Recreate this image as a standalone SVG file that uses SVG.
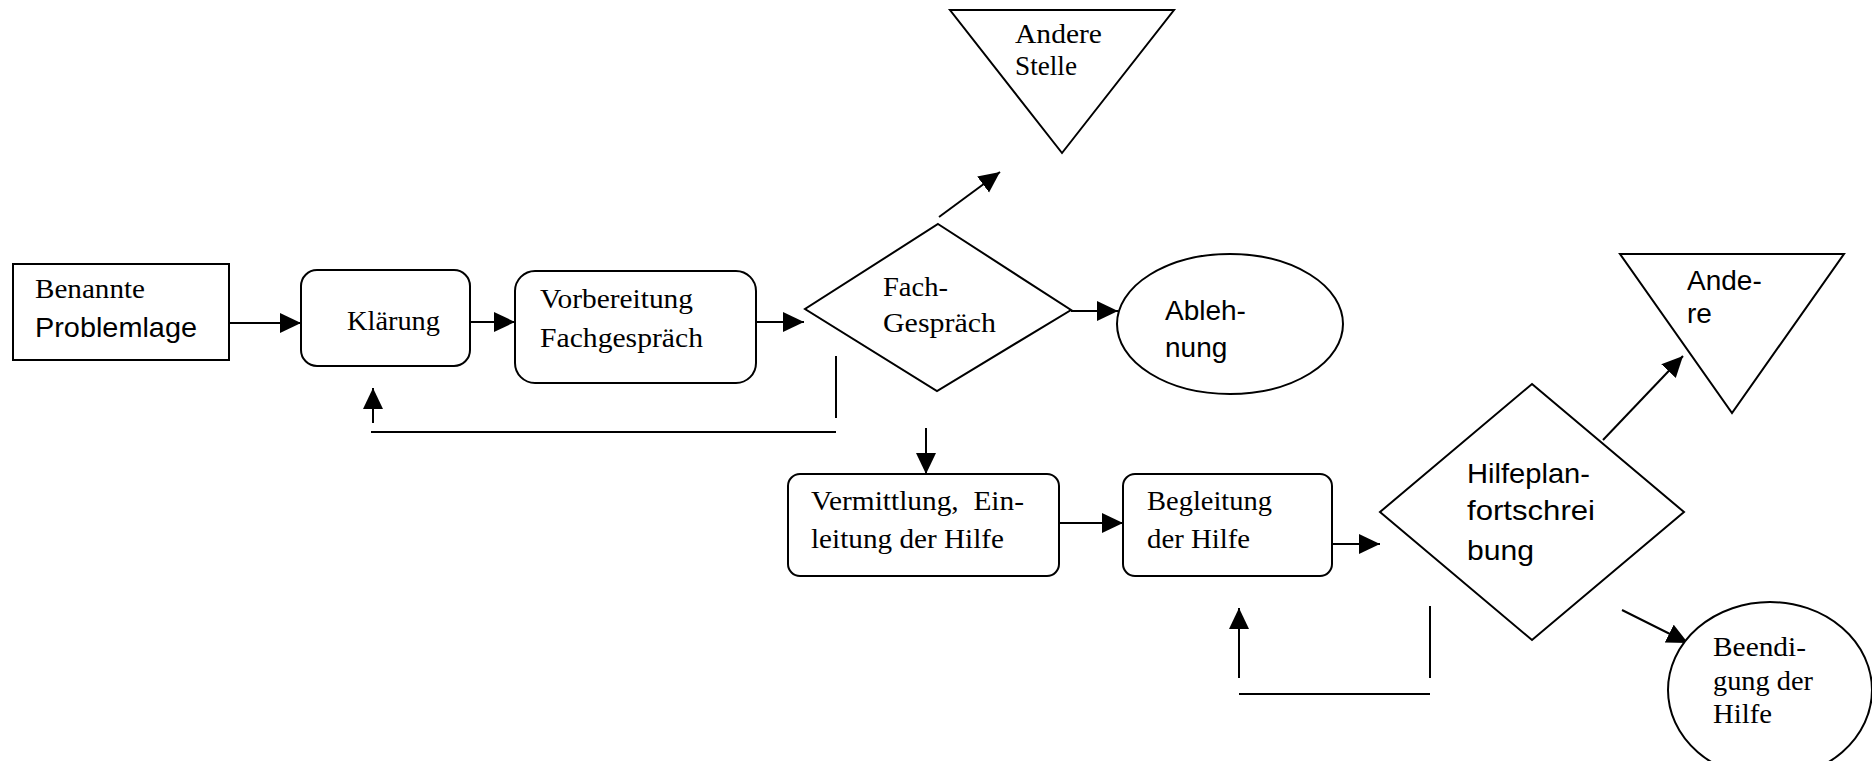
<svg xmlns="http://www.w3.org/2000/svg" width="1872" height="761" viewBox="0 0 1872 761">
<style>
.s{fill:#fff;stroke:#000;stroke-width:2}
.c{fill:none;stroke:#000;stroke-width:2}
.t{font-family:"Liberation Serif","Times New Roman",serif;font-size:27px;fill:#000}
.a{font-family:"Liberation Sans",Arial,sans-serif;font-size:28px;fill:#000}
</style>
<defs>
<marker id="ah" markerUnits="userSpaceOnUse" markerWidth="22" markerHeight="22" refX="21" refY="10" orient="auto">
<path d="M0,0 L21,10 L0,20 Z" fill="#000"/>
</marker>
</defs>
<rect width="1872" height="761" fill="#fff"/>
<g id="connectors">
<line class="c" x1="229" y1="323" x2="301" y2="323" marker-end="url(#ah)"/>
<line class="c" x1="468" y1="322" x2="515" y2="322" marker-end="url(#ah)"/>
<line class="c" x1="756" y1="322" x2="804" y2="322" marker-end="url(#ah)"/>
<line class="c" x1="1071" y1="311" x2="1118" y2="311" marker-end="url(#ah)"/>
<line class="c" x1="939" y1="217" x2="1000" y2="172" marker-end="url(#ah)"/>
<line class="c" x1="836" y1="356" x2="836" y2="418"/>
<line class="c" x1="371" y1="432" x2="836" y2="432"/>
<line class="c" x1="373" y1="423" x2="373" y2="388" marker-end="url(#ah)"/>
<line class="c" x1="926" y1="428" x2="926" y2="474" marker-end="url(#ah)"/>
<line class="c" x1="1059" y1="523" x2="1123" y2="523" marker-end="url(#ah)"/>
<line class="c" x1="1332" y1="544" x2="1380" y2="544" marker-end="url(#ah)"/>
<line class="c" x1="1603" y1="440" x2="1683" y2="356" marker-end="url(#ah)"/>
<line class="c" x1="1622" y1="610" x2="1688" y2="643" marker-end="url(#ah)"/>
<line class="c" x1="1430" y1="606" x2="1430" y2="678"/>
<line class="c" x1="1239" y1="694" x2="1430" y2="694"/>
<line class="c" x1="1239" y1="678" x2="1239" y2="608" marker-end="url(#ah)"/>
</g>
<g id="benannte">
<rect class="s" x="13" y="264" width="216" height="96"/>
<text class="t" x="35" y="298" textLength="110" lengthAdjust="spacingAndGlyphs">Benannte</text>
<text class="a" x="35" y="337" textLength="162" lengthAdjust="spacingAndGlyphs">Problemlage</text>
</g>
<g id="klaerung">
<rect class="s" x="301" y="270" width="169" height="96" rx="16"/>
<text class="t" x="347" y="330" textLength="93" lengthAdjust="spacingAndGlyphs">Klärung</text>
</g>
<g id="vorbereitung">
<rect class="s" x="515" y="271" width="241" height="112" rx="20"/>
<text class="t" x="540" y="308" textLength="153" lengthAdjust="spacingAndGlyphs">Vorbereitung</text>
<text class="t" x="540" y="347" textLength="163" lengthAdjust="spacingAndGlyphs">Fachgespräch</text>
</g>
<g id="fachgespraech">
<polygon class="s" points="938,224 1071,310 937,391 805,309"/>
<text class="t" x="883" y="296" textLength="65" lengthAdjust="spacingAndGlyphs">Fach-</text>
<text class="t" x="883" y="332" textLength="113" lengthAdjust="spacingAndGlyphs">Gespräch</text>
</g>
<g id="andere-stelle">
<polygon class="s" points="950,10 1174,10 1062,153"/>
<text class="t" x="1015" y="43" textLength="87" lengthAdjust="spacingAndGlyphs">Andere</text>
<text class="t" x="1015" y="75" textLength="62" lengthAdjust="spacingAndGlyphs">Stelle</text>
</g>
<g id="ablehnung">
<ellipse class="s" cx="1230" cy="324" rx="113" ry="70"/>
<text class="a" x="1165" y="320">Ableh-</text>
<text class="a" x="1165" y="357">nung</text>
</g>
<g id="vermittlung">
<rect class="s" x="788" y="474" width="271" height="102" rx="12"/>
<text class="t" x="811" y="510" textLength="213" lengthAdjust="spacingAndGlyphs" xml:space="preserve">Vermittlung,  Ein-</text>
<text class="t" x="811" y="548" textLength="193" lengthAdjust="spacingAndGlyphs">leitung der Hilfe</text>
</g>
<g id="begleitung">
<rect class="s" x="1123" y="474" width="209" height="102" rx="12"/>
<text class="t" x="1147" y="510" textLength="125" lengthAdjust="spacingAndGlyphs">Begleitung</text>
<text class="t" x="1147" y="548" textLength="103" lengthAdjust="spacingAndGlyphs">der Hilfe</text>
</g>
<g id="hilfeplan">
<polygon class="s" points="1532,384 1684,512 1532,640 1380,512"/>
<text class="a" x="1467" y="483" textLength="123" lengthAdjust="spacingAndGlyphs">Hilfeplan-</text>
<text class="a" x="1467" y="520" textLength="128" lengthAdjust="spacingAndGlyphs">fortschrei</text>
<text class="a" x="1467" y="560" textLength="67" lengthAdjust="spacingAndGlyphs">bung</text>
</g>
<g id="andere">
<polygon class="s" points="1620,254 1844,254 1732,413"/>
<text class="a" x="1687" y="290">Ande-</text>
<text class="a" x="1687" y="323">re</text>
</g>
<g id="beendigung">
<ellipse class="s" cx="1770" cy="690" rx="102" ry="88"/>
<text class="t" x="1713" y="656" textLength="93" lengthAdjust="spacingAndGlyphs">Beendi-</text>
<text class="t" x="1713" y="690" textLength="100" lengthAdjust="spacingAndGlyphs">gung der</text>
<text class="t" x="1713" y="723" textLength="59" lengthAdjust="spacingAndGlyphs">Hilfe</text>
</g>
</svg>
